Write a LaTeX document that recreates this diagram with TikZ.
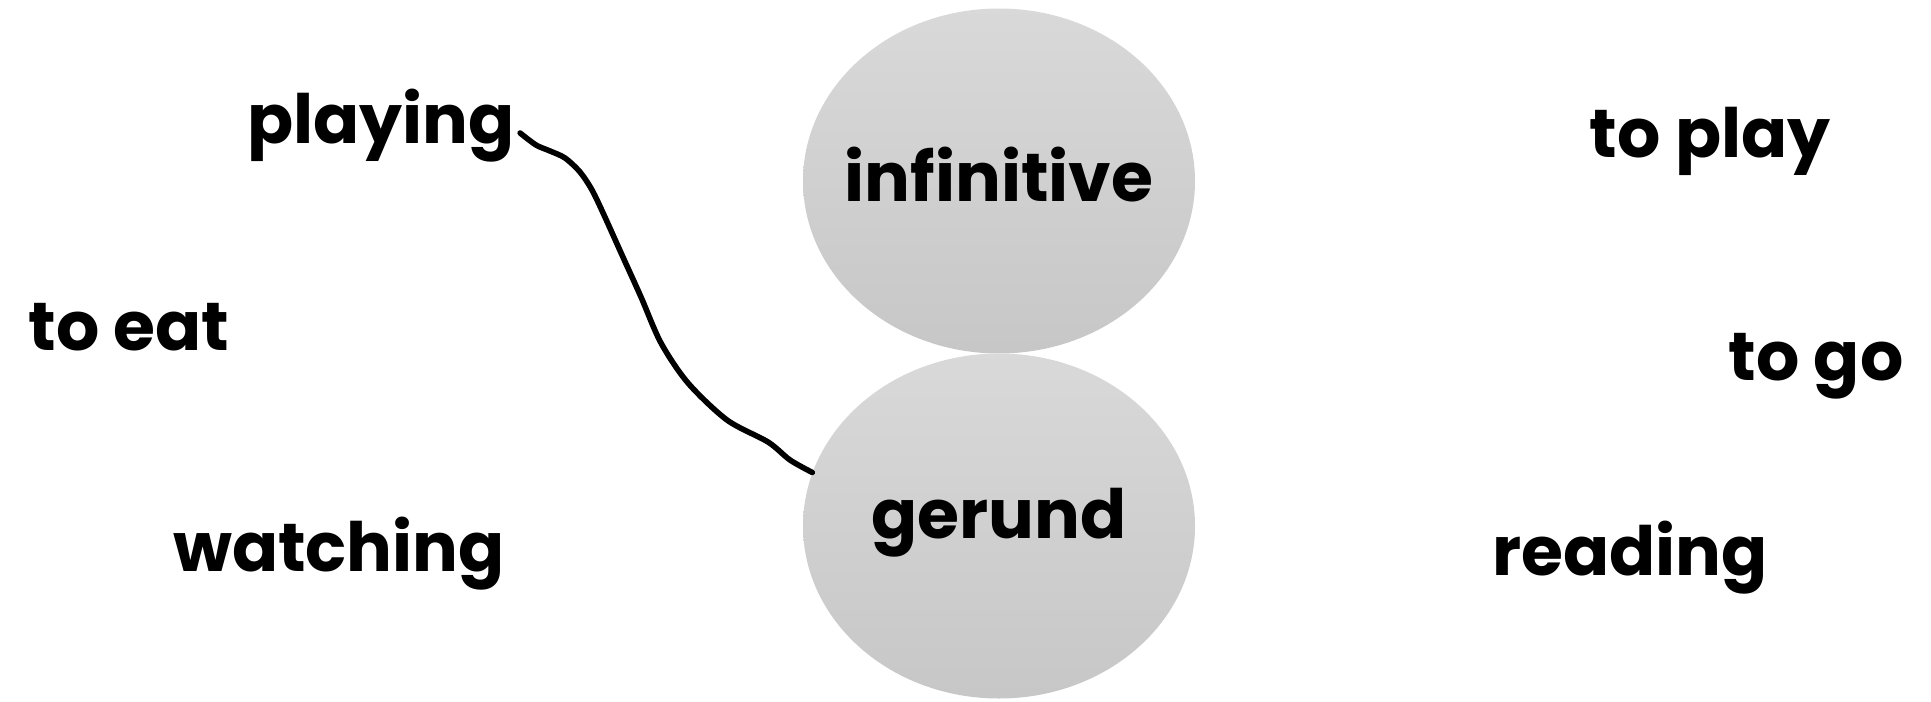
\documentclass[tikz,border=0pt]{standalone}
\usepackage{fontspec}
\setmainfont{Poppins}
\usetikzlibrary{shapes.geometric}
\begin{document}
\begin{tikzpicture}[x=0.5pt,y=-0.5pt,
    every node/.style={font=\fontsize{34}{40}\selectfont\bfseries},
    word/.style={inner sep=0pt, anchor=base},
    blob/.style={ellipse, inner sep=0pt, minimum width=196pt, minimum height=172.5pt,
      top color=black!15, bottom color=black!22},
    wire/.style={line width=2.8pt, line cap=round, line join=round}]
    \useasboundingbox (0,0) rectangle (1931,701);

    \node[blob] (infinitive) at (999,181) {};
    \node[blob] (gerund) at (999,526) {};
    \node[word] (inftext) at ([yshift=-10pt]infinitive.center) {infinitive};
    \node[word] (gertext) at ([yshift=-6pt]gerund.center) {gerund};

    \foreach \name/\x/\y/\txt in {playing/381/143/playing, toeat/129/350/to eat,
        watching/339/571/watching, toplay/1710/157/to play,
        togo/1816/380/to go, reading/1630/575/reading} {
      \node[word] (\name) at (\x,\y) {\txt};
    }

    \coordinate (p0) at ([shift={(5,-10)}]playing.base east);
    \draw[wire] plot[smooth, tension=0.5] coordinates {(p0) (536,145) (550,151)
      (565,158) (580,172) (592,190) (604,215) (622,255) (641,297) (661,343)
      (688,383) (727,420) (768,442) (790,460) (gerund.164)};
  \end{tikzpicture}
\end{document}
